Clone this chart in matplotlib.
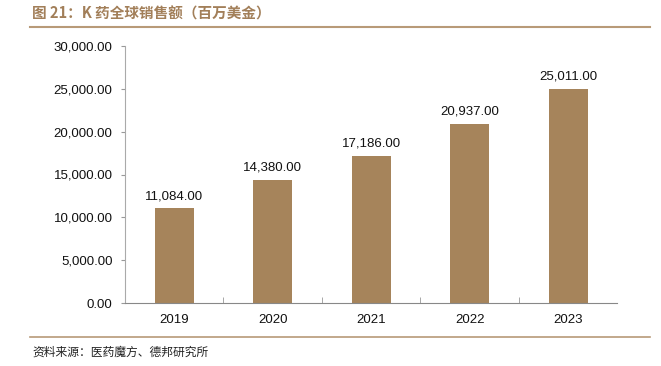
"""K 药全球销售额柱状图"""
import matplotlib
matplotlib.use("Agg")
import matplotlib.pyplot as plt
from matplotlib.lines import Line2D
from matplotlib.ticker import FuncFormatter, FixedLocator

plt.rcParams['font.family'] = ['Liberation Sans', 'Noto Sans CJK SC', 'DejaVu Sans']

years = ["2019", "2020", "2021", "2022", "2023"]
sales = [11084.00, 14380.00, 17186.00, 20937.00, 25011.00]
y_ticks = [0, 5000, 10000, 15000, 20000, 25000, 30000]

BAR_COLOR = "#A6845B"
TITLE_COLOR = "#A27F59"
RULE_COLOR = "#B89A78"

fig = plt.figure(figsize=(6.61, 3.66), dpi=100)
ax = fig.add_axes([125 / 661, 1 - 303 / 366, 492.5 / 661, 257 / 366])

x = list(range(len(years)))
bars = ax.bar(x, sales, width=0.4, color=BAR_COLOR, zorder=2)
for xi, v in zip(x, sales):
    ax.text(xi, v + 700, f"{v:,.2f}", ha='center', va='bottom', fontsize=9.5, color='#111111')

ax.set_xlim(-0.5, len(years) - 0.5)
ax.set_ylim(0, 30000)
ax.set_yticks(y_ticks)
ax.yaxis.set_major_formatter(FuncFormatter(lambda v, _: f"{v:,.2f}"))
ax.set_xticks(x)
ax.set_xticklabels(years)
ax.xaxis.set_minor_locator(FixedLocator([i + 0.5 for i in x[:-1]]))
ax.tick_params(axis='x', which='major', length=0, labelsize=9.5, pad=8, colors='#111111')
ax.tick_params(axis='x', which='minor', direction='in', length=4, color='#999999')
ax.tick_params(axis='y', length=3, color='#999999', labelsize=9.5, labelcolor='#111111', pad=6)
for side in ('top', 'right'):
    ax.spines[side].set_visible(False)
ax.spines['left'].set_color('#AAAAAA')
ax.spines['bottom'].set_color('#888888')

fig.text(32 / 661, 1 - 14 / 366, "图 21：K 药全球销售额（百万美金）", fontsize=10.5,
         fontweight='bold', color=TITLE_COLOR, va='center', ha='left',
         family=['Noto Sans CJK SC', 'DejaVu Sans'])
fig.add_artist(Line2D([30 / 661, 650 / 661], [1 - 27 / 366] * 2, color=RULE_COLOR, lw=1.5))
fig.add_artist(Line2D([30 / 661, 650 / 661], [1 - 337 / 366] * 2, color=RULE_COLOR, lw=1.2))
fig.text(32 / 661, 1 - 352 / 366, "资料来源：医药魔方、德邦研究所", fontsize=8.5,
         color='#222222', va='center', ha='left', family=['Noto Sans CJK SC', 'DejaVu Sans'])

fig.savefig("out.png", dpi=100)
